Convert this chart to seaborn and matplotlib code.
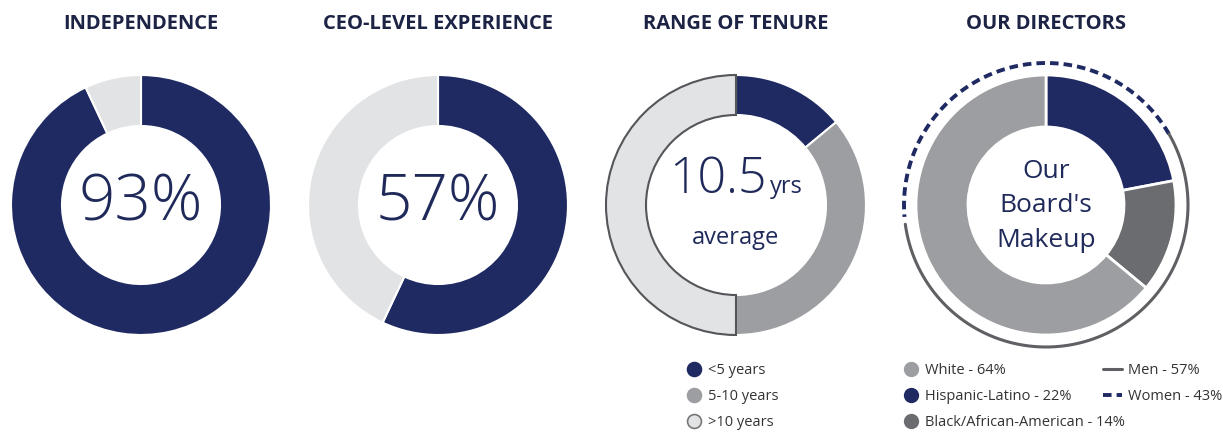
import numpy as np
import matplotlib.pyplot as plt
from matplotlib.lines import Line2D
import seaborn as sns

# data
independence = [93, 7]
ceo_experience = [57, 43]
tenure_labels = ['<5 years', '5-10 years', '>10 years']
tenure_share = [14, 36, 50]
race_labels = ['Hispanic-Latino - 22%', 'Black/African-American - 14%', 'White - 64%']
race_share = [22, 14, 64]
gender_labels = ['Women - 43%', 'Men - 57%']
gender_share = [43, 57]
titles = ['INDEPENDENCE', 'CEO-LEVEL EXPERIENCE', 'RANGE OF TENURE', 'OUR DIRECTORS']

sns.set_theme(style='white')
plt.rcParams['font.family'] = ['Open Sans', 'DejaVu Sans']

NAVY = '#1f2a63'
LIGHT = '#e2e3e5'
MID = '#9d9ea1'
DARK = '#6b6c6f'
OUTLINE = '#555659'
TXT = '#1f2a5a'

W, H = 1223, 433
fig = plt.figure(figsize=(W / 100, H / 100), dpi=100)
fig.patch.set_facecolor('white')

centers = [141, 438, 736, 1046]
cy = H - 205
half = 150


def donut_ax(cx):
    ax = fig.add_axes([(cx - half) / W, (cy - half) / H, 2 * half / W, 2 * half / H])
    return ax


def fix_ax(ax):
    # pie() resets the limits, so set them afterwards (1 data unit = 1 px)
    ax.set_xlim(-half, half)
    ax.set_ylim(-half, half)
    ax.set_aspect('equal')
    ax.axis('off')


# 1 independence
ax1 = donut_ax(centers[0])
ax1.pie(independence, colors=[NAVY, LIGHT], startangle=90, counterclock=False,
        radius=130, wedgeprops=dict(width=51, edgecolor='white', linewidth=1.5))
ax1.text(0, 1, '93%', ha='center', va='center', fontsize=46, color=TXT, fontweight='light')
fix_ax(ax1)

# 2 ceo experience
ax2 = donut_ax(centers[1])
ax2.pie(ceo_experience, colors=[NAVY, LIGHT], startangle=90, counterclock=False,
        radius=130, wedgeprops=dict(width=51, edgecolor='white', linewidth=1.5))
ax2.text(0, 1, '57%', ha='center', va='center', fontsize=46, color=TXT, fontweight='light')
fix_ax(ax2)

# 3 tenure
ax3 = donut_ax(centers[2])
wedges, _ = ax3.pie(tenure_share, colors=[NAVY, MID, LIGHT], startangle=90, counterclock=False,
                    radius=130, wedgeprops=dict(width=40, edgecolor='white', linewidth=1.5))
wedges[2].set_edgecolor(OUTLINE)
wedges[2].set_zorder(3)
ax3.text(31, 12, '10.5', ha='right', va='baseline', fontsize=36, color=TXT, fontweight='light')
ax3.text(34, 12, 'yrs', ha='left', va='baseline', fontsize=17, color=TXT)
ax3.text(0, -33, 'average', ha='center', va='center', fontsize=17, color=TXT)
fix_ax(ax3)

# 4 directors
ax4 = donut_ax(centers[3])
ax4.pie(race_share, colors=[NAVY, DARK, MID], startangle=90, counterclock=False,
        radius=130, wedgeprops=dict(width=52, edgecolor='white', linewidth=2))
ax4.text(0, -1, "Our\nBoard's\nMakeup", ha='center', va='center', fontsize=19,
         color=TXT, linespacing=1.5)

# outer gender ring, women dashed on top, men solid below
r_ring = 142
start = 30
gap = 3
spans = np.cumsum([0] + gender_share) / 100 * 360
for i, style in enumerate(['women', 'men']):
    a0 = start + spans[i] + (gap if i == 1 else 0)
    a1 = start + spans[i + 1]
    th = np.radians(np.linspace(a0, a1, 200))
    if style == 'women':
        ax4.plot(r_ring * np.cos(th), r_ring * np.sin(th), color=NAVY, lw=2.8,
                 ls=(0, (2.2, 1.3)), solid_capstyle='butt')
    else:
        ax4.plot(r_ring * np.cos(th), r_ring * np.sin(th), color='#5f6063', lw=2.2)
fix_ax(ax4)

# titles
for cx, t in zip(centers, titles):
    fig.text(cx / W, 1 - 24 / H, t, ha='center', va='center', fontsize=14.5,
             fontweight='bold', color='#1c2344')

# legends
leg_kw = dict(frameon=False, fontsize=10.5, handletextpad=0.4, labelspacing=0.75,
              borderaxespad=0, labelcolor='#333333')
tenure_handles = [
    Line2D([], [], marker='o', ls='', ms=10, mfc=c, mec=e, mew=1.2)
    for c, e in zip([NAVY, MID, LIGHT], [NAVY, MID, '#777777'])
]
fig.legend(tenure_handles, tenure_labels, loc='upper left',
           bbox_to_anchor=(679 / W, 1 - 357 / H), handlelength=1.2, **leg_kw)

race_order = [2, 0, 1]
race_handles = [
    Line2D([], [], marker='o', ls='', ms=10, mfc=[NAVY, DARK, MID][i], mec=[NAVY, DARK, MID][i])
    for i in race_order
]
fig.legend(race_handles, [race_labels[i] for i in race_order], loc='upper left',
           bbox_to_anchor=(896 / W, 1 - 357 / H), handlelength=1.2, **leg_kw)

gender_handles = [
    Line2D([], [], color='#5f6063', lw=2.2),
    Line2D([], [], color=NAVY, lw=2.8, ls=(0, (2.2, 1.3))),
]
fig.legend(gender_handles, [gender_labels[1], gender_labels[0]], loc='upper left',
           bbox_to_anchor=(1097 / W, 1 - 357 / H), handlelength=1.3, **leg_kw)

fig.savefig('out.png', dpi=100, facecolor='white')
